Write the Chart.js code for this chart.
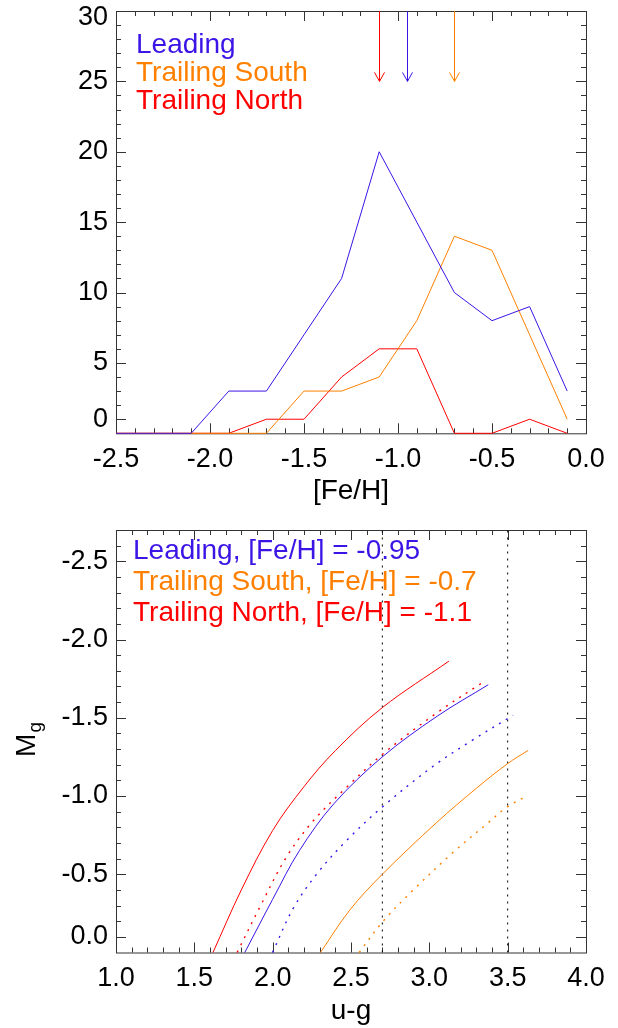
<!DOCTYPE html>
<html>
<head>
<meta charset="utf-8">
<script src="https://cdn.jsdelivr.net/npm/chart.js@4.4.1/dist/chart.umd.min.js"></script>
<style>
  body { margin: 0; background: #fff; width: 618px; height: 1028px; overflow: hidden; position: relative; }
  .box { position: absolute; left: 0; width: 618px; }
</style>
</head>
<body>
<div class="box" style="top:-20px; height:530px;"><canvas id="histChart"></canvas></div>
<div class="box" style="top:500px; height:528px;"><canvas id="cmdChart"></canvas></div>
<script>
// ---- top panel: metallicity histograms ----
const feBins = [-2.5, -2.3, -2.1, -1.9, -1.7, -1.5, -1.3, -1.1, -0.9, -0.7, -0.5, -0.3, -0.1];
const leadingCounts = [0, 0, 0, 3, 3, 7, 11, 20, 15, 10, 8, 9, 3];
const southCounts   = [0, 0, 0, 0, 0, 3, 3, 4, 8, 14, 13, 7, 1];
const northCounts   = [0, 0, 0, 0, 1, 1, 4, 6, 6, 0, 0, 1, 0];
const meanFeH = [-0.95, -0.7, -1.1];          // leading, trailing south, trailing north
const arrowFrom = 30, arrowTo = 25;
const histXTicks = [-2.5, -2.0, -1.5, -1.0, -0.5, 0.0];
const histYTicks = [1, 5, 10, 15, 20, 25, 30];
const histYLabelAt = [1, 5, 10, 15, 20, 25, 29.55];   // top label sits inside the frame
const histYLabels = ["0", "5", "10", "15", "20", "25", "30"];
const histLegend = ["Leading", "Trailing South", "Trailing North"];

// ---- bottom panel: RGB tracks ----
const leadUG   = [1.822, 2.0, 2.17, 2.39, 2.70, 3.05, 3.376];
const leadMg   = [0, -0.34, -0.65, -0.95, -1.25, -1.51, -1.711];
const leadDotUG = [1.999, 2.13, 2.28, 2.471, 2.70, 3.024, 3.28, 3.535];
const leadDotMg = [0, -0.28, -0.50, -0.715, -0.93, -1.19, -1.36, -1.516];
const southUG  = [2.305, 2.492, 2.70, 3.046, 3.301, 3.497, 3.631];
const southMg  = [0, -0.271, -0.50, -0.83, -1.05, -1.205, -1.292];
const southDotUG = [2.552, 2.705, 2.897, 3.152, 3.365, 3.497, 3.621];
const southDotMg = [0, -0.20, -0.399, -0.64, -0.82, -0.93, -0.999];
const northUG  = [1.619, 1.80, 2.0, 2.2, 2.4, 2.7, 3.125];
const northMg  = [0, -0.40, -0.78, -1.06, -1.29, -1.565, -1.862];
const northDotUG = [1.773, 1.918, 2.088, 2.258, 2.471, 2.705, 3.046, 3.344];
const northDotMg = [0, -0.29, -0.61, -0.84, -1.055, -1.27, -1.53, -1.728];
const ugCuts = [2.7, 3.5];
const cmdXTicks = [1.0, 1.5, 2.0, 2.5, 3.0, 3.5, 4.0];
const cmdYTicks = [-0.1, -0.5, -1.0, -1.5, -2.0, -2.5];
const cmdYLabels = ["0.0", "-0.5", "-1.0", "-1.5", "-2.0", "-2.5"];
const cmdLegend = ["Leading, [Fe/H] = -0.95", "Trailing South, [Fe/H] = -0.7", "Trailing North, [Fe/H] = -1.1"];

const BLUE = "#3c14e6", ORANGE = "#ff8000", RED = "#ff0000";
const colors = [BLUE, ORANGE, RED];
const FONT = '"Liberation Sans", Arial, Helvetica, sans-serif';
Chart.defaults.font.family = FONT;
Chart.defaults.color = "#000";

function pts(xs, ys) {
  return xs.map(function(x, i) { return {x: x, y: ys[i]}; });
}

// IDL-like frame: box with inward ticks on all four sides
const frame = {
  id: "frame",
  beforeDatasetsDraw(chart, args, opts) {
    const a = chart.chartArea, ctx = chart.ctx;
    const xs = chart.scales.x, ys = chart.scales.y;
    ctx.save();
    ctx.strokeStyle = "#333";
    ctx.lineWidth = 1;
    ctx.strokeRect(a.left + 0.5, a.top + 0.5, a.right - a.left, a.bottom - a.top);
    function tickX(v, len) {
      const p = Math.round(xs.getPixelForValue(v)) + 0.5;
      ctx.beginPath();
      ctx.moveTo(p, a.bottom); ctx.lineTo(p, a.bottom - len);
      ctx.moveTo(p, a.top); ctx.lineTo(p, a.top + len);
      ctx.stroke();
    }
    function tickY(v, len) {
      const p = Math.round(ys.getPixelForValue(v)) + 0.5;
      ctx.beginPath();
      ctx.moveTo(a.left, p); ctx.lineTo(a.left + len, p);
      ctx.moveTo(a.right, p); ctx.lineTo(a.right - len, p);
      ctx.stroke();
    }
    opts.xMinor.forEach(function(v) { tickX(v, 5); });
    opts.xMajor.forEach(function(v) { tickX(v, 10); });
    opts.yMinor.forEach(function(v) { tickY(v, 5); });
    opts.yMajor.forEach(function(v) { tickY(v, 10); });
    ctx.restore();
  },
  afterDraw(chart, args, opts) {
    const a = chart.chartArea, ctx = chart.ctx;
    ctx.save();
    ctx.font = "28px " + FONT;
    ctx.textBaseline = "alphabetic";
    opts.legend.forEach(function(t, i) {
      ctx.fillStyle = colors[i];
      ctx.fillText(t, a.left + opts.legendX, a.top + opts.legendY + i * opts.legendStep);
    });
    ctx.restore();
  }
};

// arrows marking the mean metallicity of each stream
const arrows = {
  id: "arrows",
  afterDatasetsDraw(chart) {
    const xs = chart.scales.x, ys = chart.scales.y, ctx = chart.ctx;
    ctx.save();
    ctx.lineWidth = 1;
    meanFeH.forEach(function(fe, i) {
      const x = Math.round(xs.getPixelForValue(fe)) + 0.5;
      const y0 = ys.getPixelForValue(arrowFrom), y1 = ys.getPixelForValue(arrowTo);
      ctx.strokeStyle = colors[i];
      ctx.beginPath();
      ctx.moveTo(x, y0); ctx.lineTo(x, y1);
      ctx.moveTo(x - 5, y1 - 9); ctx.lineTo(x, y1); ctx.lineTo(x + 5, y1 - 9);
      ctx.stroke();
    });
    ctx.restore();
  }
};

// rotated M_g label
const mgLabel = {
  id: "mgLabel",
  afterDraw(chart) {
    const a = chart.chartArea, ctx = chart.ctx;
    ctx.save();
    ctx.translate(27, (a.top + a.bottom) / 2);
    ctx.rotate(-Math.PI / 2);
    ctx.fillStyle = "#000";
    ctx.textBaseline = "middle";
    ctx.font = "28px " + FONT;
    const w = ctx.measureText("M").width;
    ctx.fillText("M", -w / 2 - 4, 0);
    ctx.font = "19px " + FONT;
    ctx.fillText("g", w / 2 - 3, 9);
    ctx.restore();
  }
};

function minorTicks(lo, hi, step, skip) {
  const out = [];
  for (let v = lo; v <= hi + 1e-9; v += step) {
    const r = Math.round(v * 10) / 10;
    if (!skip(r)) out.push(r);
  }
  return out;
}
function isHalf(v) { return Math.abs(v * 2 - Math.round(v * 2)) < 1e-6; }

function lineSet(data, color, dotted) {
  return {
    data: data, borderColor: color, borderWidth: dotted ? 1.4 : 1, pointRadius: 0,
    borderDash: dotted ? [2, 6] : [], tension: 0.35,
    fill: false, clip: 2
  };
}

new Chart(document.getElementById("histChart"), {
  type: "line",
  data: {
    datasets: [
      {data: pts(feBins, leadingCounts), borderColor: BLUE, borderWidth: 1, pointRadius: 0, clip: 2},
      {data: pts(feBins, southCounts), borderColor: ORANGE, borderWidth: 1, pointRadius: 0, clip: 2},
      {data: pts(feBins, northCounts), borderColor: RED, borderWidth: 1, pointRadius: 0, clip: 2}
    ]
  },
  options: {
    responsive: true, maintainAspectRatio: false, animation: false, devicePixelRatio: 1,
    layout: {padding: {top: 31, right: 32, left: 0, bottom: 0}},
    plugins: {
      legend: {display: false}, tooltip: {enabled: false},
      frame: {
        xMajor: histXTicks,
        xMinor: minorTicks(-2.5, 0, 0.1, isHalf),
        yMajor: histYTicks,
        yMinor: minorTicks(2, 29, 1, function(v) { return v % 5 === 0; }),
        legend: histLegend, legendX: 20, legendY: 42, legendStep: 28
      }
    },
    scales: {
      x: {
        type: "linear", min: -2.5, max: 0,
        afterBuildTicks: function(s) { s.ticks = histXTicks.map(function(v) { return {value: v}; }); },
        afterFit: function(s) { s.height = 76.7; },
        ticks: {callback: function(v) { return v.toFixed(1); }, font: {size: 27}, color: "#000", padding: 10, maxRotation: 0, autoSkip: false},
        grid: {display: false, drawTicks: false}, border: {display: false},
        title: {display: true, text: "[Fe/H]", font: {size: 28}, color: "#000", padding: {top: 0, bottom: 2}}
      },
      y: {
        type: "linear", min: 0, max: 30,
        afterBuildTicks: function(s) { s.ticks = histYLabelAt.map(function(v) { return {value: v}; }); },
        afterFit: function(s) { s.width = 116; },
        ticks: {callback: function(v, i) { return histYLabels[i]; }, font: {size: 27}, color: "#000", padding: 8, autoSkip: false},
        grid: {display: false, drawTicks: false}, border: {display: false}
      }
    }
  },
  plugins: [frame, arrows]
});

new Chart(document.getElementById("cmdChart"), {
  type: "line",
  data: {
    datasets: [
      lineSet(pts(leadUG, leadMg), BLUE, false),
      lineSet(pts(leadDotUG, leadDotMg), BLUE, true),
      lineSet(pts(southUG, southMg), ORANGE, false),
      lineSet(pts(southDotUG, southDotMg), ORANGE, true),
      lineSet(pts(northUG, northMg), RED, false),
      lineSet(pts(northDotUG, northDotMg), RED, true),
      {data: [{x: ugCuts[0], y: 0}, {x: ugCuts[0], y: -2.7}], borderColor: "#000", borderWidth: 1, borderDash: [2, 5], pointRadius: 0},
      {data: [{x: ugCuts[1], y: 0}, {x: ugCuts[1], y: -2.7}], borderColor: "#000", borderWidth: 1, borderDash: [2, 5], pointRadius: 0}
    ]
  },
  options: {
    responsive: true, maintainAspectRatio: false, animation: false, devicePixelRatio: 1,
    layout: {padding: {top: 30, right: 32, left: 0, bottom: 0}},
    plugins: {
      legend: {display: false}, tooltip: {enabled: false},
      frame: {
        xMajor: cmdXTicks,
        xMinor: minorTicks(1, 4, 0.1, isHalf),
        yMajor: cmdYTicks,
        yMinor: minorTicks(-2.6, -0.2, 0.1, isHalf),
        legend: cmdLegend, legendX: 17, legendY: 29, legendStep: 31
      }
    },
    scales: {
      x: {
        type: "linear", min: 1, max: 4,
        afterBuildTicks: function(s) { s.ticks = cmdXTicks.map(function(v) { return {value: v}; }); },
        afterFit: function(s) { s.height = 75.5; },
        ticks: {callback: function(v) { return v.toFixed(1); }, font: {size: 27}, color: "#000", padding: 10, maxRotation: 0, autoSkip: false},
        grid: {display: false, drawTicks: false}, border: {display: false},
        title: {display: true, text: "u-g", font: {size: 28}, color: "#000", padding: {top: 0, bottom: 0}}
      },
      y: {
        type: "linear", min: -2.7, max: 0, reverse: true,
        afterBuildTicks: function(s) { s.ticks = cmdYTicks.map(function(v) { return {value: v}; }); },
        afterFit: function(s) { s.width = 116; },
        ticks: {callback: function(v, i) { return cmdYLabels[i]; }, font: {size: 27}, color: "#000", padding: 8, autoSkip: false},
        grid: {display: false, drawTicks: false}, border: {display: false}
      }
    }
  },
  plugins: [frame, mgLabel]
});
</script>
</body>
</html>
